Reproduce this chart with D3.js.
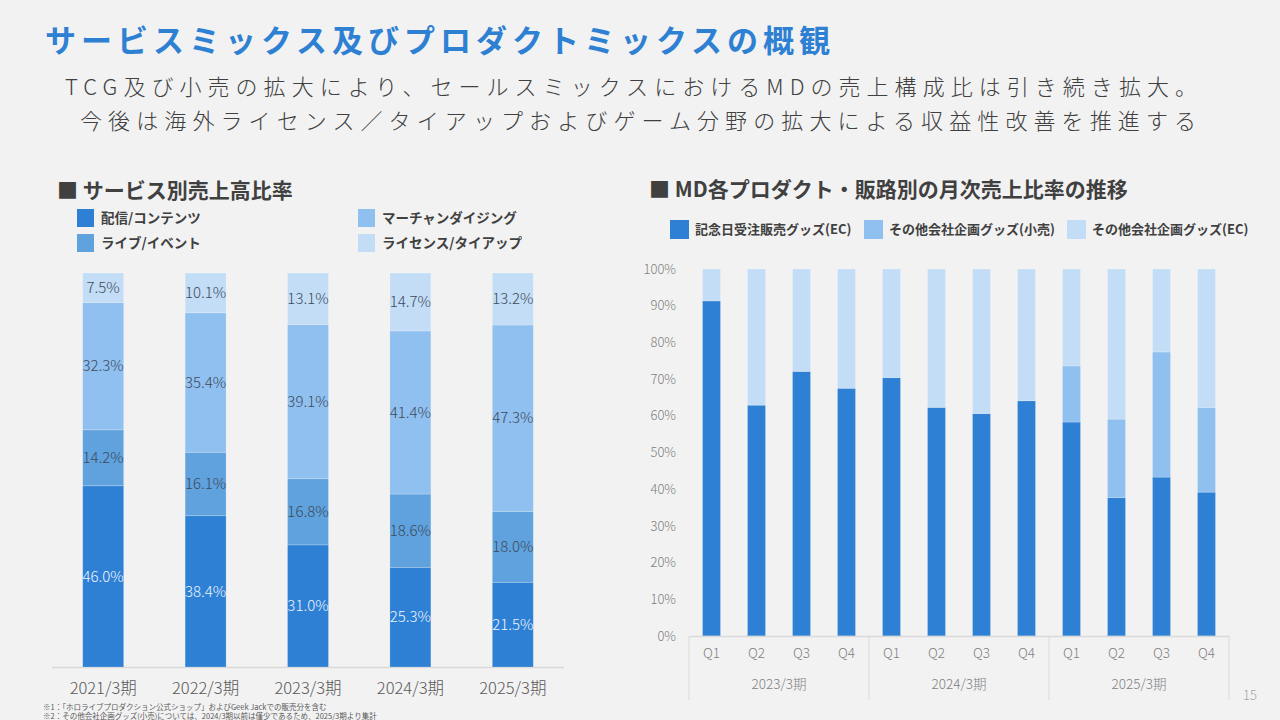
<!DOCTYPE html>
<html>
<head>
<meta charset="utf-8">
<script src="https://cdn.jsdelivr.net/npm/d3@7"></script>
<style>
  html, body { margin: 0; padding: 0; background: #f2f2f2; }
  svg { display: block; font-family: "Noto Sans CJK JP", "Noto Sans", sans-serif; }
</style>
</head>
<body>
<div id="container"></div>
<script>
/* DATA */
const fiscalYears = ["2021/3期", "2022/3期", "2023/3期", "2024/3期", "2025/3期"];
const serviceNames = ["配信/コンテンツ", "ライブ/イベント", "マーチャンダイジング", "ライセンス/タイアップ"];
const streamingShare = [46.0, 38.4, 31.0, 25.3, 21.5];
const liveShare = [14.2, 16.1, 16.8, 18.6, 18.0];
const merchShare = [32.3, 35.4, 39.1, 41.4, 47.3];
const licenseShare = [7.5, 10.1, 13.1, 14.7, 13.2];

const mdNames = ["記念日受注販売グッズ(EC)", "その他会社企画グッズ(小売)", "その他会社企画グッズ(EC)"];
const mdPeriods = ["2023/3期", "2024/3期", "2025/3期"];
const mdQuarters = ["Q1", "Q2", "Q3", "Q4", "Q1", "Q2", "Q3", "Q4", "Q1", "Q2", "Q3", "Q4"];
const anniversaryEC = [91.3, 62.9, 72.1, 67.5, 70.4, 62.3, 60.6, 64.1, 58.3, 37.7, 43.3, 39.2];
const otherRetail = [0, 0, 0, 0, 0, 0, 0, 0, 15.3, 21.4, 34.1, 23.1];
const otherEC = [8.7, 37.1, 27.9, 32.5, 29.6, 37.7, 39.4, 35.9, 26.4, 40.9, 22.6, 37.7];
const yTicks = [0, 10, 20, 30, 40, 50, 60, 70, 80, 90, 100];

/* CONSTANTS */
const width = 1280, height = 720;
const blues = ["#2e80d4", "#5fa2de", "#90c0ef", "#c3ddf6"];
const mdBlues = ["#2e80d4", "#90c0ef", "#c3ddf6"];
const gridGrey = "#d9d9d9";
const jp = "'Noto Sans CJK JP', sans-serif";

const svg = d3.select("#container")
  .append("svg")
  .attr("width", width)
  .attr("height", height);

svg.append("rect").attr("width", width).attr("height", height).attr("fill", "#f2f2f2");

/* HEADINGS */
svg.append("text")
  .attr("x", 45).attr("y", 52)
  .attr("textLength", 785).attr("lengthAdjust", "spacing")
  .attr("font-size", 31).attr("font-weight", 700)
  .attr("fill", "#2e80d2")
  .text("サービスミックス及びプロダクトミックスの概観");

svg.append("text")
  .attr("x", 65).attr("y", 95)
  .attr("textLength", 1132).attr("lengthAdjust", "spacing")
  .attr("font-size", 22).attr("font-weight", 300).attr("fill", "#404040")
  .text("TCG及び小売の拡大により、セールスミックスにおけるMDの売上構成比は引き続き拡大。");

svg.append("text")
  .attr("x", 80).attr("y", 129)
  .attr("textLength", 1116).attr("lengthAdjust", "spacing")
  .attr("font-size", 22).attr("font-weight", 300).attr("fill", "#404040")
  .text("今後は海外ライセンス／タイアップおよびゲーム分野の拡大による収益性改善を推進する");

svg.append("text")
  .attr("x", 57).attr("y", 198)
  .attr("font-size", 21).attr("font-weight", 700).attr("fill", "#404040")
  .text("■ サービス別売上高比率");

svg.append("text")
  .attr("x", 649).attr("y", 197)
  .attr("font-size", 21).attr("font-weight", 700).attr("fill", "#404040")
  .text("■ MD各プロダクト・販路別の月次売上比率の推移");

/* LEFT CHART: service mix */
const serviceRows = fiscalYears.map((y, i) => ({
  year: y,
  [serviceNames[0]]: streamingShare[i],
  [serviceNames[1]]: liveShare[i],
  [serviceNames[2]]: merchShare[i],
  [serviceNames[3]]: licenseShare[i]
}));

const xL = d3.scaleBand()
  .domain(fiscalYears)
  .range([52, 564])
  .paddingInner(0.6)
  .paddingOuter(0.3);

const yL = d3.scaleLinear().domain([0, 100]).range([667, 273]);

const colorL = d3.scaleOrdinal().domain(serviceNames).range(blues);

const stackL = d3.stack().keys(serviceNames)(serviceRows);

// legend
const legendL = svg.append("g");
serviceNames.forEach((name, i) => {
  const lx = i < 2 ? 77 : 358, ly = i % 2 === 0 ? 209 : 234;
  legendL.append("rect").attr("x", lx).attr("y", ly).attr("width", 17).attr("height", 18).attr("fill", colorL(name));
  legendL.append("text").attr("x", lx + 24).attr("y", ly + 9).attr("dy", "0.35em")
    .attr("font-size", 13.5).attr("font-weight", 700).attr("fill", "#404040").text(name);
});

svg.append("line")
  .attr("x1", 52).attr("x2", 564).attr("y1", 667.5).attr("y2", 667.5)
  .attr("stroke", gridGrey).attr("stroke-width", 1.5);

const layersL = svg.append("g").selectAll("g")
  .data(stackL)
  .join("g")
  .attr("fill", d => colorL(d.key));

layersL.selectAll("rect")
  .data(d => d)
  .join("rect")
  .attr("x", d => xL(d.data.year))
  .attr("y", d => yL(d[1]))
  .attr("width", xL.bandwidth())
  .attr("height", d => yL(d[0]) - yL(d[1]))
  .attr("stroke", "#ffffff").attr("stroke-opacity", 0.25).attr("stroke-width", 0.8);

layersL.selectAll("text")
  .data((d, i) => d.map(p => ({ p, i })))
  .join("text")
  .attr("x", d => xL(d.p.data.year) + xL.bandwidth() / 2)
  .attr("y", d => yL((d.p[0] + d.p[1]) / 2))
  .attr("dy", "0.35em")
  .attr("text-anchor", "middle")
  .attr("font-size", 15).attr("font-weight", 300)
  .attr("fill", d => d.i === 0 ? "#eef4fc" : "#3d4a5c")
  .text(d => (d.p[1] - d.p[0]).toFixed(1) + "%");

svg.append("g")
  .attr("transform", "translate(0, 667)")
  .call(d3.axisBottom(xL).tickSize(0).tickPadding(15))
  .call(g => g.select(".domain").remove())
  .call(g => g.selectAll("text")
    .attr("font-family", jp).attr("font-weight", 300)
    .attr("font-size", 16.5).attr("fill", "#595959"));

/* RIGHT CHART: MD mix */
const mdRows = mdQuarters.map((q, i) => ({
  idx: i,
  [mdNames[0]]: anniversaryEC[i],
  [mdNames[1]]: otherRetail[i],
  [mdNames[2]]: otherEC[i]
}));

const xR = d3.scaleBand()
  .domain(d3.range(mdQuarters.length))
  .range([689, 1229])
  .paddingInner(0.6)
  .paddingOuter(0.3);

const xGroup = d3.scaleBand().domain(mdPeriods).range([689, 1229]);

const yR = d3.scaleLinear().domain([0, 100]).range([636, 269]);

const colorR = d3.scaleOrdinal().domain(mdNames).range(mdBlues);

const stackR = d3.stack().keys(mdNames)(mdRows);

// legend
const legendX = [670, 864, 1067];
mdNames.forEach((name, i) => {
  svg.append("rect").attr("x", legendX[i]).attr("y", 220).attr("width", 19).attr("height", 19).attr("fill", colorR(name));
  svg.append("text").attr("x", legendX[i] + 25).attr("y", 229.5).attr("dy", "0.35em")
    .attr("font-size", 13).attr("font-weight", 700).attr("fill", "#404040").text(name);
});

svg.append("g")
  .attr("transform", "translate(689, 0)")
  .call(d3.axisLeft(yR).tickValues(yTicks).tickFormat(d => d + "%").tickSize(0).tickPadding(13))
  .call(g => g.select(".domain").remove())
  .call(g => g.selectAll("text")
    .attr("font-family", jp).attr("font-weight", 300)
    .attr("font-size", 13).attr("fill", "#7f7f7f"));

svg.append("g").selectAll("g")
  .data(stackR)
  .join("g")
  .attr("fill", d => colorR(d.key))
  .selectAll("rect")
  .data(d => d)
  .join("rect")
  .attr("x", d => xR(d.data.idx))
  .attr("y", d => yR(d[1]))
  .attr("width", xR.bandwidth())
  .attr("height", d => yR(d[0]) - yR(d[1]))
  .attr("stroke", "#ffffff").attr("stroke-opacity", d => d[1] > d[0] ? 0.25 : 0).attr("stroke-width", 0.8);

// quarter labels
svg.append("g")
  .attr("transform", "translate(0, 636)")
  .call(d3.axisBottom(xR).tickFormat(i => mdQuarters[i]).tickSize(0).tickPadding(12))
  .call(g => g.select(".domain").attr("stroke", gridGrey).attr("stroke-width", 1.5))
  .call(g => g.selectAll("text")
    .attr("font-family", jp).attr("font-weight", 300)
    .attr("font-size", 13.5).attr("fill", "#7f7f7f"));

// period labels
svg.append("g")
  .attr("transform", "translate(0, 636)")
  .call(d3.axisBottom(xGroup).tickSize(0).tickPadding(43))
  .call(g => g.select(".domain").remove())
  .call(g => g.selectAll("text")
    .attr("font-family", jp).attr("font-weight", 300)
    .attr("font-size", 13.5).attr("fill", "#7f7f7f"));

// group separators
svg.append("g").selectAll("line")
  .data(mdPeriods.map(p => xGroup(p)).concat([xGroup.range()[1]]))
  .join("line")
  .attr("x1", d => d).attr("x2", d => d)
  .attr("y1", 636).attr("y2", 700)
  .attr("stroke", gridGrey).attr("stroke-width", 1);

/* FOOTNOTES */
svg.append("text").attr("x", 43).attr("y", 710)
  .attr("font-size", 7.5).attr("fill", "#595959")
  .text("※1：「ホロライブプロダクション公式ショップ」およびGeek Jackでの販売分を含む");
svg.append("text").attr("x", 43).attr("y", 719)
  .attr("font-size", 7.5).attr("fill", "#595959")
  .text("※2：その他会社企画グッズ(小売)については、2024/3期以前は僅少であるため、2025/3期より集計");

svg.append("text").attr("x", 1250).attr("y", 700).attr("text-anchor", "middle")
  .attr("font-size", 13).attr("font-weight", 300).attr("fill", "#a6a6a6").text("15");
</script>
</body>
</html>
